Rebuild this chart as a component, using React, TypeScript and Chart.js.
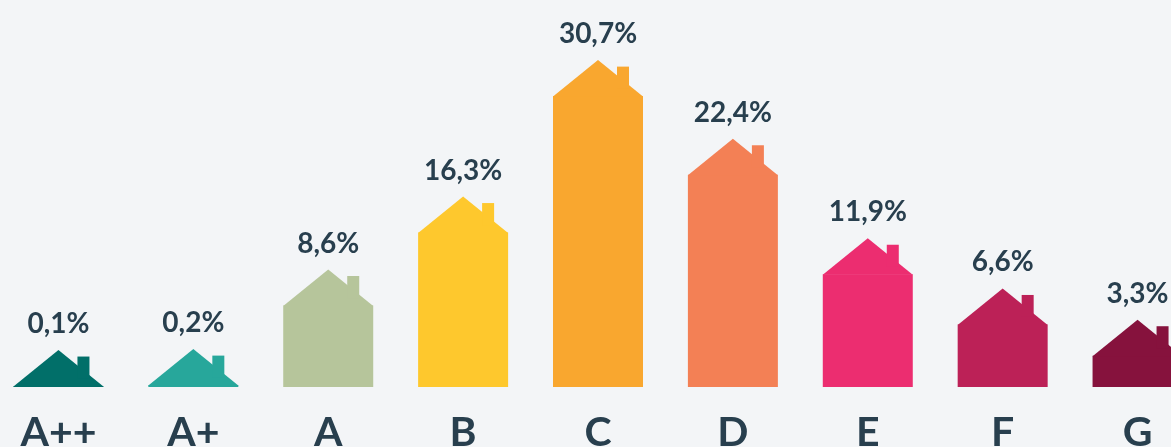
import React, { useEffect, useRef } from "react";
import { Chart, registerables } from "chart.js";

Chart.register(...registerables);

const categories = ["A++", "A+", "A", "B", "C", "D", "E", "F", "G"];
const shares = [0.1, 0.2, 8.6, 16.3, 30.7, 22.4, 11.9, 6.6, 3.3];
const valueLabels = ["0,1%", "0,2%", "8,6%", "16,3%", "30,7%", "22,4%", "11,9%", "6,6%", "3,3%"];
const colors = [
  "#016f69",
  "#27a79b",
  "#b6c59b",
  "#fec82d",
  "#f9a72f",
  "#f38055",
  "#ec2d70",
  "#bc2157",
  "#86123d",
];

const TEXT = "#283f4e";
const BG = "#f3f5f7";

const housePlugin = {
  id: "houses",
  afterDatasetsDraw(chart: any) {
    const ctx = chart.ctx;
    const meta = chart.getDatasetMeta(0);
    ctx.save();
    meta.data.forEach((bar: any, i: number) => {
      const x = bar.x;
      const y = bar.y;
      const half = bar.width / 2;
      const roofH = 36;
      const peak = y - roofH;
      ctx.fillStyle = colors[i];
      ctx.beginPath();
      ctx.moveTo(x - half, y + 0.5);
      ctx.lineTo(x, peak);
      ctx.lineTo(x + half, y + 0.5);
      ctx.closePath();
      ctx.fill();
      // chimney
      ctx.fillRect(x + 19, peak + 6.5, 12, 22);
      // value label
      ctx.fillStyle = TEXT;
      ctx.font = "bold 28px Lato";
      ctx.textAlign = "center";
      ctx.textBaseline = "alphabetic";
      ctx.fillText(valueLabels[i], x, peak - 17);
      // category label
      ctx.font = "bold 41px Lato";
      ctx.fillText(categories[i], x, 446);
    });
    ctx.restore();
  },
};

export default function App() {
  const ref = useRef<HTMLCanvasElement | null>(null);

  useEffect(() => {
    document.documentElement.style.overflow = "hidden";
    document.body.style.margin = "0";
    document.body.style.overflow = "hidden";
    document.body.style.background = BG;
    const canvas = ref.current;
    if (!canvas) return;
    const chart = new Chart(canvas, {
      type: "bar",
      data: {
        labels: categories,
        datasets: [
          {
            data: shares,
            backgroundColor: colors,
            borderWidth: 0,
            barPercentage: 90 / 134.9,
            categoryPercentage: 1,
          },
        ],
      },
      options: {
        responsive: false,
        animation: false,
        layout: { padding: { top: 8, bottom: 60, left: 0, right: 0 } },
        plugins: {
          legend: { display: false },
          tooltip: { enabled: false },
        },
        scales: {
          x: { display: false },
          y: { display: false, min: 0, max: 40 },
        },
      },
      plugins: [housePlugin],
    });
    return () => chart.destroy();
  }, []);

  return (
    <div
      style={{
        position: "relative",
        width: 1171,
        height: 447,
        overflow: "hidden",
        background: BG,
      }}
    >
      <canvas
        ref={ref}
        width={1214}
        height={447}
        style={{ position: "absolute", left: -9, top: 0, width: 1214, height: 447 }}
      />
    </div>
  );
}
